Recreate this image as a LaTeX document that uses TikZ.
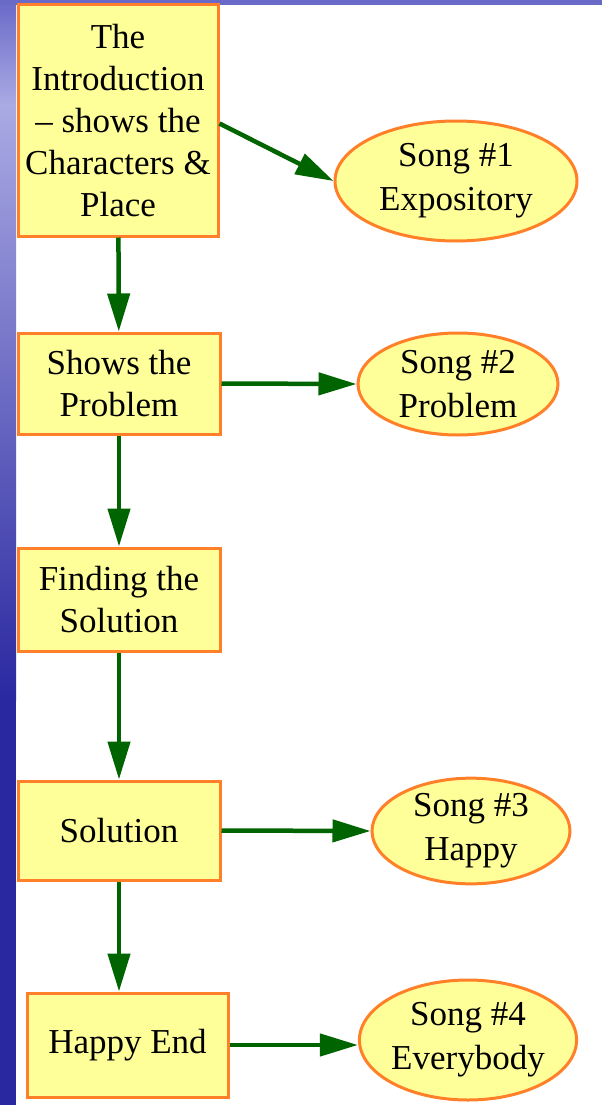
\documentclass[tikz,border=0pt]{standalone}
\usepackage{fontspec}
\setmainfont{Liberation Serif}
\usetikzlibrary{arrows.meta, shapes.geometric}
\definecolor{notebox}{RGB}{255,255,153}
\definecolor{noteedge}{RGB}{255,128,40}
\definecolor{flowgreen}{RGB}{0,100,0}
\definecolor{slideblue}{RGB}{105,105,200}
\definecolor{slidelight}{RGB}{170,170,228}
\definecolor{slidedark}{RGB}{42,40,160}
\tikzset{
    stage/.style={rectangle, draw=noteedge, fill=notebox, line width=3pt, inner sep=0pt, align=center, font=\fontsize{35}{42}\selectfont},
    song/.style={ellipse, draw=noteedge, fill=notebox, line width=3pt, inner sep=0pt, align=center, font=\fontsize{35}{44}\selectfont},
    arrow/.style={-{Triangle[length=38pt, width=22pt]}, line width=4.5pt, flowgreen},
}

\begin{document}
\begin{tikzpicture}[x=1pt, y=-1pt]
    \useasboundingbox (0,0) rectangle (602,1105);
    \fill[white] (0,0) rectangle (602,1105);
    % slide background
    \shade[top color=slideblue, bottom color=slidelight] (0,0) rectangle (16,105);
    \shade[top color=slidelight, bottom color=slidedark] (0,105) rectangle (16,700);
    \fill[slidedark] (0,700) rectangle (16,1105);
    \fill[slideblue] (0,0) rectangle (602,5);
    % story stages
    \node[stage, minimum width=200pt, minimum height=231pt] (intro) at (118,120.5) {The\\Introduction\\-- shows the\\Characters \&\\Place};
    \node[stage, minimum width=202pt, minimum height=101pt] (problem) at (119,383.5) {Shows the\\Problem};
    \node[stage, minimum width=202pt, minimum height=103pt] (finding) at (119,599.5) {Finding the\\Solution};
    \node[stage, minimum width=202pt, minimum height=99pt] (solution) at (119,830.5) {Solution};
    \node[stage, minimum width=201pt, minimum height=104pt] (happyend) at (127.5,1045) {Happy End};
    % songs
    \node[song, minimum width=242pt, minimum height=120pt] (song1) at (456,181) {Song \#1\\Expository};
    \node[song, minimum width=200pt, minimum height=102pt] (song2) at (458,384) {Song \#2\\Problem};
    \node[song, minimum width=198pt, minimum height=98pt] (song3) at (471,831) {Song \#3\\Happy};
    \node[song, minimum width=216pt, minimum height=120pt] (song4) at (468,1040) {Song \#4\\Everybody};
    % flow
    \draw[arrow] (intro) -- (problem);
    \draw[arrow] (problem.south) -- (finding.north);
    \draw[arrow] (finding) -- (solution);
    \draw[arrow] (solution.south) -- (solution.south |- happyend.north);
    \draw[arrow] ([yshift=-3pt]intro.east) -- (song1.west);
    \draw[arrow] (problem.east) -- (song2.west);
    \draw[arrow] (solution.east) -- (song3.west);
    \draw[arrow] (happyend.east) -- (happyend.east -| song4.west);
\end{tikzpicture}
\end{document}
